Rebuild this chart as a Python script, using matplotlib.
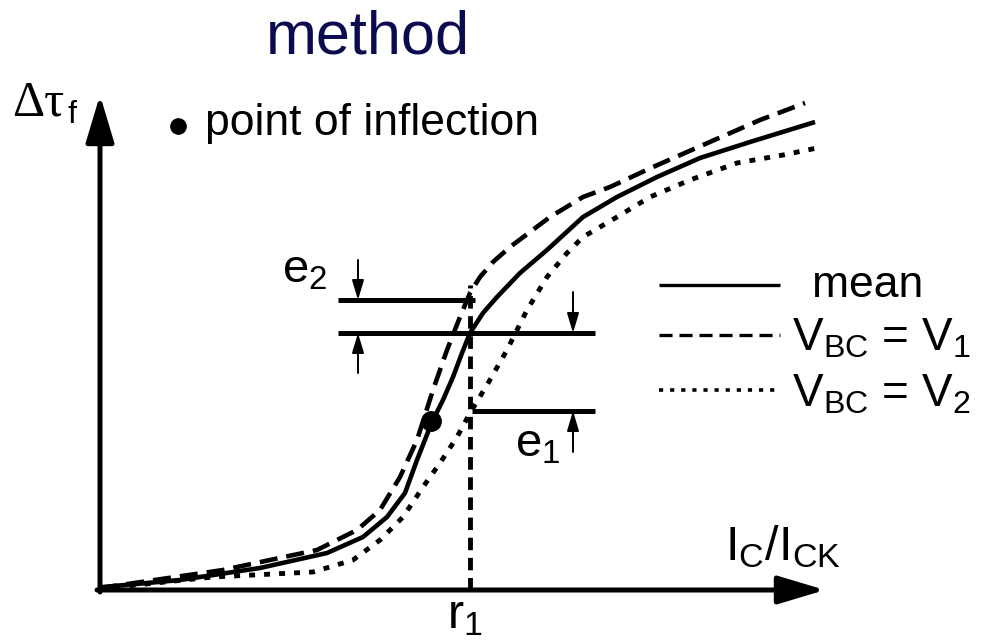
import matplotlib
matplotlib.use('Agg')
import matplotlib.pyplot as plt

plt.rcParams['font.family'] = ['Liberation Sans', 'DejaVu Sans']
plt.rcParams['mathtext.fontset'] = 'custom'
plt.rcParams['mathtext.rm'] = 'Liberation Sans'
plt.rcParams['mathtext.it'] = 'Liberation Sans'
plt.rcParams['lines.scale_dashes'] = False

# transit time curves (x = I_C/I_CK, y = delta tau_f), schematic units
x_mean = [0, 3, 80, 160, 227, 263, 287, 305, 317, 332, 343, 353, 362, 370, 383, 397, 420, 447, 483, 517, 557, 600, 650, 715]
y_mean = [0, 3, 10, 22, 37, 53, 73, 97, 130, 168, 190, 213, 237, 257, 277, 293, 317, 340, 373, 393, 413, 432, 448, 468]
x_v1 = [0, 7, 123, 217, 257, 280, 300, 317, 333, 347, 360, 370, 380, 393, 410, 430, 450, 483, 510, 553, 603, 660, 705]
y_v1 = [0, 3, 20, 40, 60, 80, 113, 150, 200, 240, 273, 297, 313, 328, 343, 358, 373, 393, 403, 423, 445, 470, 487]
x_v2 = [0, 7, 113, 213, 253, 280, 303, 323, 340, 357, 370, 387, 407, 427, 447, 467, 483, 517, 550, 590, 637, 683, 717]
y_v2 = [0, 2, 13, 18, 30, 50, 73, 103, 127, 153, 177, 205, 240, 280, 313, 337, 353, 373, 393, 410, 427, 435, 442]

x_inflect, y_inflect = 331, 169
r1 = 370
e2_level = 290
mean_level = 257
e1_level = 179

fig = plt.figure(figsize=(9.85, 6.42), dpi=100)
ax = fig.add_axes([0, 0, 1, 1])
ax.set_xlim(-100, 885)
ax.set_ylim(-52, 590)
ax.axis('off')

# axes with arrow heads
axis_arrow = dict(arrowstyle='-|>,head_length=0.4,head_width=0.12', mutation_scale=72,
                  lw=3.6, color='black', shrinkA=0, shrinkB=0)
ax.annotate('', xy=(0, 495), xytext=(0, -2), arrowprops=axis_arrow)
ax.annotate('', xy=(725, 0), xytext=(-3, 0), arrowprops=axis_arrow)

# curves
ax.plot(x_mean, y_mean, color='black', lw=3.3, solid_capstyle='butt', solid_joinstyle='round')
ax.plot(x_v1, y_v1, color='black', lw=3.3, linestyle=(0, (13, 6.5)), dash_capstyle='butt')
ax.plot(x_v2, y_v2, color='black', lw=3.5, linestyle=(0, (4.3, 6.5)), dash_capstyle='butt')
ax.plot([x_inflect], [y_inflect], 'o', color='black', ms=14)

# r1 marker and error levels
ax.plot([r1, r1], [0, 305], color='black', lw=3.5, linestyle=(0, (9, 5.5)), dash_capstyle='butt')
ax.plot([238, r1 + 5], [e2_level, e2_level], color='black', lw=3.6, solid_capstyle='butt')
ax.plot([238, 495], [mean_level, mean_level], color='black', lw=3.6, solid_capstyle='butt')
ax.plot([r1 + 2, 495], [e1_level, e1_level], color='black', lw=3.6, solid_capstyle='butt')

small_arrow = dict(arrowstyle='-|>,head_length=0.4,head_width=0.12', mutation_scale=30,
                   lw=1.4, color='black', shrinkA=0, shrinkB=0)
ax.annotate('', xy=(258, e2_level), xytext=(258, 330), arrowprops=small_arrow)
ax.annotate('', xy=(258, mean_level), xytext=(258, 217), arrowprops=small_arrow)
ax.annotate('', xy=(473, mean_level), xytext=(473, 298), arrowprops=small_arrow)
ax.annotate('', xy=(473, e1_level), xytext=(473, 138), arrowprops=small_arrow)

# legend
ax.plot([559, 680], [305, 305], color='black', lw=2.4, solid_capstyle='butt')
ax.plot([559, 680], [255, 255], color='black', lw=2.4, linestyle=(0, (9.4, 5)), dash_capstyle='butt')
ax.plot([559, 680], [200, 200], color='black', lw=2.6, linestyle=(0, (3, 5)), dash_capstyle='butt')
ax.text(712, 293, 'mean', fontsize=32, va='baseline')
ax.text(692, 240, r'V$_{\mathrm{BC}}$ = V$_1$', fontsize=33, va='baseline')
ax.text(692, 183, r'V$_{\mathrm{BC}}$ = V$_2$', fontsize=33, va='baseline')

# labels
ax.text(268, 537, 'method', fontsize=44, color='#0b0b50', ha='center', va='baseline')
ax.plot([78], [464], 'o', color='black', ms=11)
ax.text(105, 455, 'point of inflection', fontsize=32, va='baseline')
ax.text(-88, 475, 'Δτ', fontsize=36, va='baseline', family=['Liberation Serif', 'DejaVu Serif'])
ax.text(-33, 467, 'f', fontsize=23, va='baseline')
ax.text(625, 30, r'I$_\mathrm{C}$/I$_\mathrm{CK}$', fontsize=35, va='baseline')
ax.text(347, -38, r'r$_1$', fontsize=35, va='baseline')
ax.text(415, 133, r'e$_1$', fontsize=34, va='baseline')
ax.text(182, 307, r'e$_2$', fontsize=34, va='baseline')

fig.savefig('out.png', dpi=100)
